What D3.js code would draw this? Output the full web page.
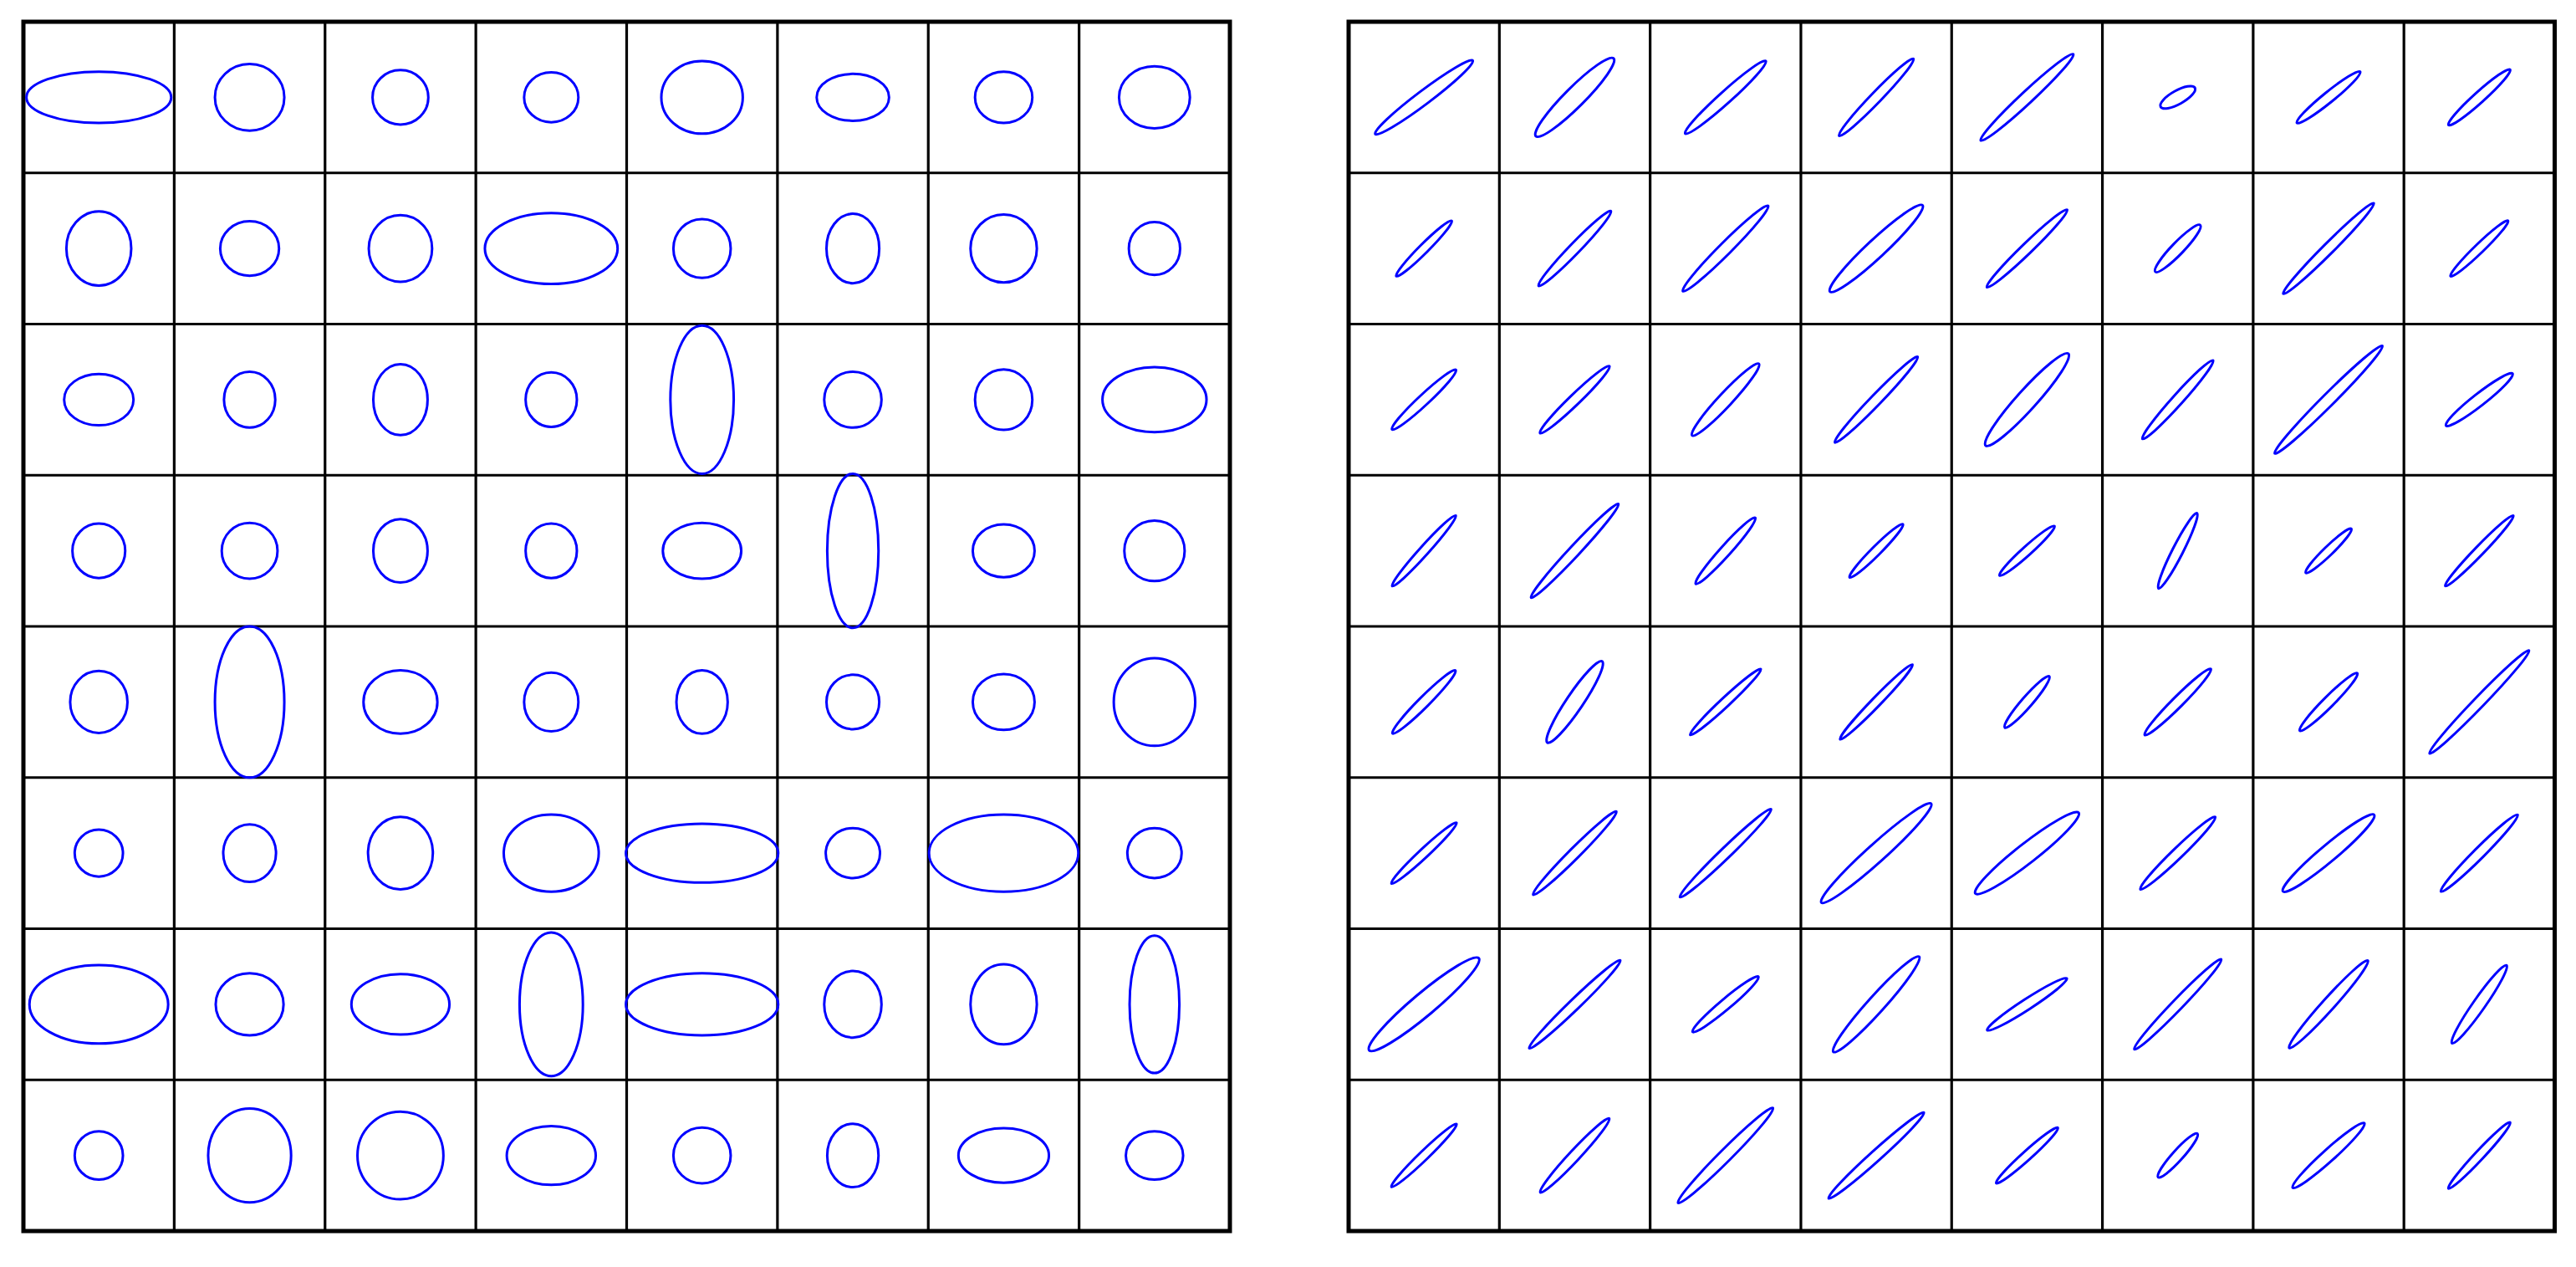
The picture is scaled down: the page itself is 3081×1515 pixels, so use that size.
<!DOCTYPE html>
<html>
  <head>
    <script src="https://d3js.org/d3.v7.min.js" charset="utf-8"></script>
    <style>
      body { margin: 0; background: #fff; }
    </style>
  </head>
  <body>
    <svg id="chart" width="3081" height="1515"></svg>
    <script>
      // left panel: axis aligned ellipses, width / height in cell units (row by row, top row first)
      var leftW = [
        [0.96, 0.46, 0.37, 0.36, 0.54, 0.48, 0.38, 0.47],
        [0.43, 0.39, 0.42, 0.88, 0.38, 0.35, 0.44, 0.34],
        [0.46, 0.34, 0.36, 0.34, 0.42, 0.38, 0.38, 0.69],
        [0.35, 0.37, 0.36, 0.34, 0.52, 0.34, 0.41, 0.40],
        [0.38, 0.46, 0.49, 0.36, 0.34, 0.35, 0.41, 0.54],
        [0.32, 0.35, 0.43, 0.63, 1.01, 0.36, 0.99, 0.36],
        [0.92, 0.45, 0.65, 0.42, 1.01, 0.38, 0.44, 0.33],
        [0.32, 0.55, 0.57, 0.59, 0.38, 0.34, 0.60, 0.38]
      ];
      var leftH = [
        [0.34, 0.44, 0.36, 0.33, 0.48, 0.31, 0.34, 0.41],
        [0.49, 0.36, 0.44, 0.47, 0.39, 0.46, 0.45, 0.35],
        [0.34, 0.37, 0.47, 0.36, 0.98, 0.37, 0.40, 0.43],
        [0.36, 0.37, 0.42, 0.36, 0.37, 1.02, 0.35, 0.40],
        [0.41, 1.00, 0.42, 0.39, 0.42, 0.36, 0.37, 0.58],
        [0.31, 0.38, 0.48, 0.51, 0.39, 0.33, 0.51, 0.33],
        [0.52, 0.41, 0.40, 0.95, 0.41, 0.44, 0.53, 0.91],
        [0.32, 0.62, 0.58, 0.39, 0.37, 0.42, 0.36, 0.32]
      ];

      // right panel: rotated ellipses, major / minor axis length in cell units, angle in degrees
      var rightMajor = [
        [0.81, 0.73, 0.72, 0.71, 0.84, 0.26, 0.54, 0.55],
        [0.52, 0.69, 0.80, 0.84, 0.74, 0.43, 0.85, 0.53],
        [0.58, 0.64, 0.65, 0.79, 0.82, 0.70, 1.01, 0.56],
        [0.63, 0.85, 0.59, 0.50, 0.49, 0.56, 0.42, 0.65],
        [0.59, 0.65, 0.64, 0.69, 0.45, 0.62, 0.54, 0.95],
        [0.59, 0.78, 0.84, 0.98, 0.87, 0.69, 0.79, 0.72],
        [0.95, 0.84, 0.57, 0.85, 0.63, 0.83, 0.78, 0.63],
        [0.60, 0.67, 0.89, 0.85, 0.55, 0.39, 0.64, 0.60]
      ];
      var rightMinor = [
        [0.09, 0.13, 0.08, 0.07, 0.08, 0.09, 0.07, 0.07],
        [0.06, 0.07, 0.08, 0.12, 0.07, 0.08, 0.07, 0.06],
        [0.07, 0.07, 0.09, 0.07, 0.13, 0.07, 0.08, 0.08],
        [0.06, 0.07, 0.07, 0.06, 0.06, 0.07, 0.06, 0.06],
        [0.07, 0.11, 0.06, 0.06, 0.07, 0.07, 0.07, 0.07],
        [0.06, 0.07, 0.07, 0.12, 0.13, 0.07, 0.11, 0.07],
        [0.15, 0.07, 0.07, 0.11, 0.07, 0.07, 0.08, 0.08],
        [0.06, 0.07, 0.08, 0.07, 0.06, 0.07, 0.08, 0.06]
      ];
      var rightAngle = [
        [37, 45, 42, 46, 43, 29, 39, 42],
        [45, 46, 45, 43, 44, 46, 45, 44],
        [43, 44, 47, 46, 48, 48, 45, 38],
        [48, 47, 48, 45, 42, 63, 44, 46],
        [45, 56, 43, 46, 49, 45, 45, 46],
        [43, 45, 44, 42, 38, 44, 40, 45],
        [40, 44, 40, 48, 33, 46, 48, 55],
        [44, 47, 45, 42, 42, 48, 42, 47]
      ];

      var n = 8;
      var svg = d3.select("#chart");

      function panel(x0, x1, y0, y1) {
        var g = svg.append("g");
        var sx = d3.scaleLinear().domain([0, n]).range([x0, x1]);
        var sy = d3.scaleLinear().domain([0, n]).range([y0, y1]);

        // inner grid lines
        g.selectAll("line.v").data(d3.range(1, n)).enter().append("line")
          .attr("x1", d => sx(d)).attr("x2", d => sx(d))
          .attr("y1", y0).attr("y2", y1)
          .attr("stroke", "#000").attr("stroke-width", 3.2);
        g.selectAll("line.h").data(d3.range(1, n)).enter().append("line")
          .attr("y1", d => sy(d)).attr("y2", d => sy(d))
          .attr("x1", x0).attr("x2", x1)
          .attr("stroke", "#000").attr("stroke-width", 3.2);

        g.append("rect").attr("x", x0).attr("y", y0)
          .attr("width", x1 - x0).attr("height", y1 - y0)
          .attr("fill", "none").attr("stroke", "#000").attr("stroke-width", 5);
        return {g: g, sx: sx, sy: sy};
      }

      var cells = d3.range(n * n).map(i => ({r: Math.floor(i / n), c: i % n}));

      var L = panel(28, 1471, 26, 1472);
      L.g.selectAll("ellipse").data(cells).enter().append("ellipse")
        .attr("cx", d => L.sx(d.c + 0.5))
        .attr("cy", d => L.sy(d.r + 0.5))
        .attr("rx", d => (L.sx(leftW[d.r][d.c]) - L.sx(0)) / 2)
        .attr("ry", d => (L.sy(leftH[d.r][d.c]) - L.sy(0)) / 2)
        .attr("fill", "none").attr("stroke", "#0000ff").attr("stroke-width", 3);

      var R = panel(1613, 3055.5, 26, 1472);
      R.g.selectAll("ellipse").data(cells).enter().append("ellipse")
        .attr("transform", d => "translate(" + R.sx(d.c + 0.5) + "," + R.sy(d.r + 0.5) + ") rotate(" + (-rightAngle[d.r][d.c]) + ")")
        .attr("rx", d => (R.sx(rightMajor[d.r][d.c]) - R.sx(0)) / 2)
        .attr("ry", d => (R.sx(rightMinor[d.r][d.c]) - R.sx(0)) / 2)
        .attr("fill", "none").attr("stroke", "#0000ff").attr("stroke-width", 3);
    </script>
  </body>
</html>
